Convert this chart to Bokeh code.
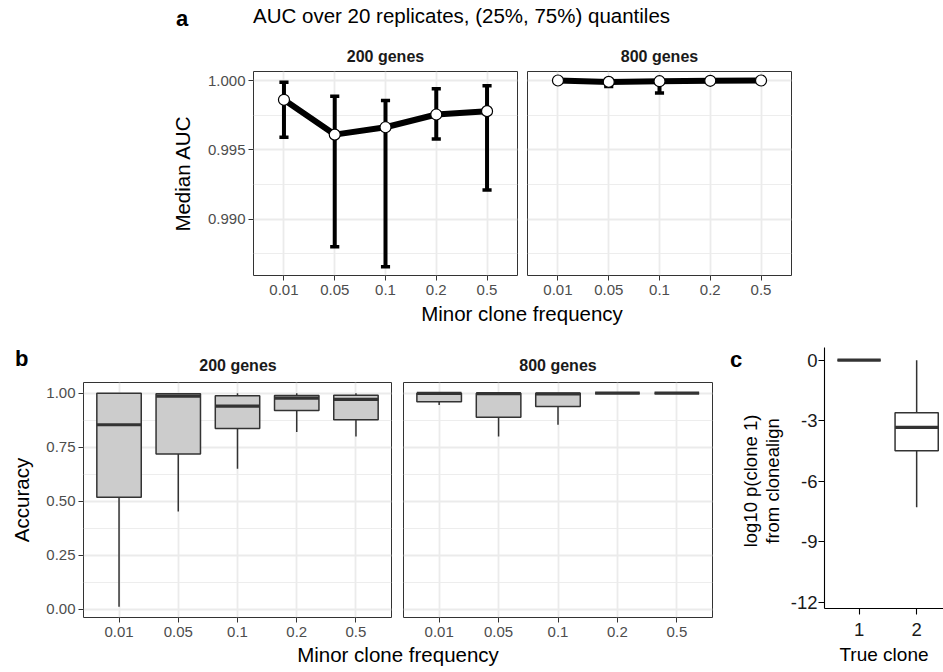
from bokeh.plotting import figure
from bokeh.layouts import column, row
from bokeh.models import (Range1d, FixedTicker, PrintfTickFormatter, Div, ColumnDataSource)
from bokeh.embed import file_html
from bokeh.resources import INLINE

# ---------------- data ----------------
freq_labels = ["0.01", "0.05", "0.1", "0.2", "0.5"]

# panel a: median AUC and (25%, 75%) quantiles
auc200_median = [0.99861, 0.99610, 0.99663, 0.99755, 0.99779]
auc200_q25 = [0.99591, 0.98802, 0.98658, 0.99579, 0.99211]
auc200_q75 = [0.99988, 0.99887, 0.99856, 0.99940, 0.99962]
auc800_median = [1.00000, 0.99990, 0.99995, 0.99998, 1.00000]
auc800_q25 = [0.99998, 0.99957, 0.99910, 0.99995, 0.99999]
auc800_q75 = [1.00000, 1.00000, 1.00000, 1.00000, 1.00000]

# panel b: accuracy boxplots
acc200_lower = [0.011, 0.452, 0.650, 0.820, 0.800]
acc200_q1 = [0.518, 0.718, 0.837, 0.920, 0.877]
acc200_median = [0.854, 0.986, 0.940, 0.977, 0.971]
acc200_q3 = [1.000, 0.997, 0.988, 0.989, 0.990]
acc200_upper = [1.000, 1.000, 1.000, 1.000, 1.000]

acc800_lower = [0.945, 0.800, 0.854, 1.000, 1.000]
acc800_q1 = [0.960, 0.889, 0.938, 1.000, 1.000]
acc800_median = [0.999, 0.998, 0.997, 1.000, 1.000]
acc800_q3 = [1.000, 1.000, 1.000, 1.000, 1.000]
acc800_upper = [1.000, 1.000, 1.000, 1.000, 1.000]

# panel c: log10 p(clone 1) by true clone
clone_labels = ["1", "2"]
c_lower = [0.0, -7.28]
c_q1 = [0.0, -4.48]
c_median = [0.0, -3.33]
c_q3 = [0.0, -2.60]
c_upper = [0.0, 0.0]
c_yticks = [-12, -9, -6, -3, 0]

# ---------------- style ----------------
FONT = "Liberation Sans"
CSSFONT = "'Liberation Sans', Arial, Helvetica, sans-serif"
GRID = "#EBEBEB"
DARK = "#333333"
TICKTXT = "#4D4D4D"

xpos = list(range(1, len(freq_labels) + 1))
cpos = list(range(1, len(clone_labels) + 1))
BOX_HALF = 0.375
CAP_HALF = 0.09


def make_fig(width, height, borders, x_range, y_range, title=None):
    l, r, t, b = borders
    return figure(width=width, height=height, x_range=x_range, y_range=y_range,
                  output_backend="svg", toolbar_location=None, title=title,
                  min_border_left=l, min_border_right=r,
                  min_border_top=t, min_border_bottom=b)


def style_facet(p, yticks, yminor, yfmt, show_y, ylabel=None, label_standoff=10,
                title_standoff=8):
    p.outline_line_color = DARK
    p.outline_line_width = 1
    xtk = FixedTicker(ticks=xpos)
    ytk = FixedTicker(ticks=yticks, minor_ticks=yminor)
    p.xaxis.ticker = xtk
    p.xaxis.major_label_overrides = {x: lab for x, lab in zip(xpos, freq_labels)}
    p.yaxis.ticker = ytk
    p.yaxis.formatter = PrintfTickFormatter(format=yfmt)
    p.xgrid.ticker = xtk
    p.ygrid.ticker = ytk
    for ax in p.axis:
        ax.axis_line_color = None
        ax.major_tick_line_color = DARK
        ax.major_tick_line_width = 1
        ax.major_tick_out = 5
        ax.major_tick_in = 0
        ax.minor_tick_line_color = None
        ax.major_label_text_font = FONT
        ax.major_label_text_font_size = "15px"
        ax.major_label_text_color = TICKTXT
    p.xaxis.major_label_standoff = 4
    p.yaxis.major_label_standoff = 3
    p.xgrid.grid_line_color = GRID
    p.xgrid.grid_line_width = 1.8
    p.ygrid.grid_line_color = GRID
    p.ygrid.grid_line_width = 1.8
    p.ygrid.minor_grid_line_color = GRID
    p.ygrid.minor_grid_line_width = 0.9
    if not show_y:
        p.yaxis.visible = False
    if ylabel:
        p.yaxis.axis_label = ylabel
        p.yaxis.axis_label_text_font = FONT
        p.yaxis.axis_label_text_font_size = "20.5px"
        p.yaxis.axis_label_text_font_style = "normal"
        p.yaxis.axis_label_text_color = "black"
        p.yaxis.axis_label_standoff = label_standoff
    if p.title is not None:
        p.title.text_font = FONT
        p.title.text_font_size = "16px"
        p.title.text_font_style = "bold"
        p.title.text_color = "#1A1A1A"
        p.title.align = "center"
        p.title.standoff = title_standoff


def errorbar_panel(p, med, lo, hi):
    src = ColumnDataSource(dict(x=xpos, med=med, lo=lo, hi=hi,
                                xl=[x - CAP_HALF for x in xpos],
                                xr=[x + CAP_HALF for x in xpos]))
    p.segment("x", "lo", "x", "hi", source=src, line_width=4, line_color="black")
    p.segment("xl", "lo", "xr", "lo", source=src, line_width=3.5, line_color="black")
    p.segment("xl", "hi", "xr", "hi", source=src, line_width=3.5, line_color="black")
    p.line("x", "med", source=src, line_width=6, line_color="black", line_join="round")
    p.scatter("x", "med", source=src, size=11, fill_color="white",
              line_color="black", line_width=1.2)


def box_panel(p, xs, lo, q1, med, q3, hi, fill):
    src = ColumnDataSource(dict(x=xs, lo=lo, q1=q1, med=med, q3=q3, hi=hi,
                                xl=[x - BOX_HALF for x in xs],
                                xr=[x + BOX_HALF for x in xs]))
    p.segment("x", "q3", "x", "hi", source=src, line_width=1.5, line_color=DARK)
    p.segment("x", "lo", "x", "q1", source=src, line_width=1.5, line_color=DARK)
    p.vbar(x="x", width=2 * BOX_HALF, bottom="q1", top="q3", source=src,
           fill_color=fill, line_color=DARK, line_width=1.5)
    p.segment("xl", "med", "xr", "med", source=src, line_width=3.2, line_color=DARK)


def text_div(width, height, spans):
    inner = "".join(spans)
    return Div(width=width, height=height, margin=0, text=(
        f'<div style="position:relative;width:{width}px;height:{height}px;'
        f'font-family:{CSSFONT};color:#000;">{inner}</div>'))


def span(text, left, top, size, weight="normal", width=None, color="#000", lh=None, extra=""):
    w = f"width:{width}px;text-align:center;" if width else ""
    lh = lh if lh else size
    return (f'<span style="position:absolute;left:{left}px;top:{top}px;{w}'
            f'font-size:{size}px;line-height:{lh}px;font-weight:{weight};color:{color};'
            f'white-space:nowrap;{extra}">{text}</span>')


# ---------------- panel a ----------------
a_yr = (0.985941, 1.000649)
a_ticks = [0.990, 0.995, 1.000]
a_minor = [0.9875, 0.9925, 0.9975]

fa1 = make_fig(522, 268, (253, 5, 35, 29), Range1d(0.4, 5.6), Range1d(*a_yr), "200 genes")
style_facet(fa1, a_ticks, a_minor, "%.3f", True, "Median AUC", 11, 14)
errorbar_panel(fa1, auc200_median, auc200_q25, auc200_q75)

fa2 = make_fig(421, 268, (5, 152, 35, 29), Range1d(0.4, 5.6), Range1d(*a_yr), "800 genes")
style_facet(fa2, a_ticks, a_minor, "%.3f", False, None, 11, 14)
errorbar_panel(fa2, auc800_median, auc800_q25, auc800_q75)

head_a = text_div(943, 36, [
    span("a", 176, 8, 22, "bold"),
    span("AUC over 20 replicates, (25%, 75%) quantiles", 253, 6, 20.5),
])
xlab_a = text_div(943, 26, [span("Minor clone frequency", 372, 0, 20.5, width=300, lh=20)])

# ---------------- panel b ----------------
b_yr = (-0.0385, 1.0495)
b_ticks = [0.0, 0.25, 0.5, 0.75, 1.0]
b_minor = [0.125, 0.375, 0.625, 0.875]

head_b = text_div(720, 46, [
    span("b", 15, 18, 22, "bold"),
    span("200 genes", 138, 28, 16, "bold", width=200, color="#1A1A1A"),
    span("800 genes", 458, 28, 16, "bold", width=200, color="#1A1A1A"),
])

fb1 = make_fig(397, 269, (83, 6, 6, 28), Range1d(0.4, 5.6), Range1d(*b_yr))
style_facet(fb1, b_ticks, b_minor, "%.2f", True, "Accuracy", 10)
box_panel(fb1, xpos, acc200_lower, acc200_q1, acc200_median, acc200_q3, acc200_upper, "#CCCCCC")

fb2 = make_fig(323, 269, (6, 8, 6, 28), Range1d(0.4, 5.6), Range1d(*b_yr))
style_facet(fb2, b_ticks, b_minor, "%.2f", False)
box_panel(fb2, xpos, acc800_lower, acc800_q1, acc800_median, acc800_q3, acc800_upper, "#CCCCCC")

xlab_b = text_div(720, 27, [span("Minor clone frequency", 248, 0, 20.5, width=300, lh=20)])

# ---------------- panel c ----------------
c_label = ('<div style="position:absolute;left:-58px;top:129px;width:200px;height:44px;'
           'text-align:center;font-size:18.5px;line-height:22px;white-space:nowrap;'
           'transform:rotate(-90deg);color:#000;">log10 p(clone 1)<br>from clonealign</div>')
div_c = text_div(64, 342, [span("c", 10, 19, 22, "bold"), c_label])

fc = make_fig(159, 342, (40, 0, 17, 64), Range1d(0.4, 2.466), Range1d(-12.3, 0.63))
fc.outline_line_color = None
fc.xgrid.grid_line_color = None
fc.ygrid.grid_line_color = None
fc.xaxis.ticker = FixedTicker(ticks=cpos)
fc.xaxis.major_label_overrides = {x: lab for x, lab in zip(cpos, clone_labels)}
fc.yaxis.ticker = FixedTicker(ticks=c_yticks)
fc.yaxis.major_label_overrides = {v: str(v) for v in c_yticks}
for ax in fc.axis:
    ax.axis_line_color = "black"
    ax.axis_line_width = 1.1
    ax.major_tick_line_color = "black"
    ax.major_tick_line_width = 1.1
    ax.major_tick_out = 6
    ax.major_tick_in = 0
    ax.minor_tick_line_color = None
    ax.major_label_text_font = FONT
    ax.major_label_text_font_size = "18.5px"
    ax.major_label_text_color = "#1A1A1A"
    ax.axis_label_text_font = FONT
    ax.axis_label_text_font_size = "19px"
    ax.axis_label_text_font_style = "normal"
    ax.axis_label_text_color = "black"
fc.xaxis.major_label_standoff = 8
fc.yaxis.major_label_standoff = 1
fc.xaxis.axis_label = "True clone"
fc.xaxis.axis_label_standoff = 5
box_panel(fc, cpos, c_lower, c_q1, c_median, c_q3, c_upper, "white")

layout = column(
    head_a,
    row(fa1, fa2),
    xlab_a,
    row(column(head_b, row(fb1, fb2), xlab_b), div_c, fc),
)

open("out.html", "w").write(file_html(layout, INLINE))
